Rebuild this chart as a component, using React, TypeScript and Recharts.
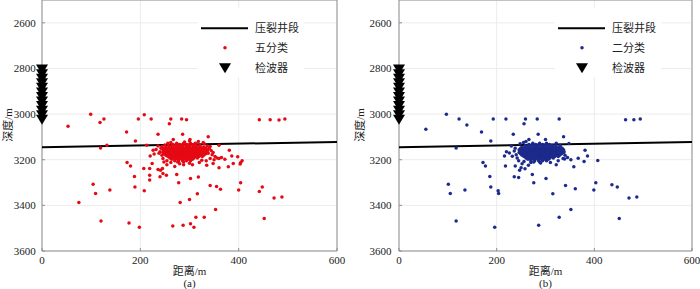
import React from 'react';
import { CartesianGrid, ReferenceLine, Scatter, ScatterChart, XAxis, YAxis } from 'recharts';

// depth (m) vs horizontal distance (m)
const xTicks = [0, 200, 400, 600];
const yTicks = [2600, 2800, 3000, 3200, 3400, 3600];

const wellSection = [
  { x: 0, y: 3145 },
  { x: 600, y: 3122 },
];

const geophoneDepths = [2805, 2825, 2845, 2865, 2885, 2905, 2925, 2945, 2965, 2985, 3005, 3025];

// dense event cloud around the fracturing stage, shared by both panels
const coreRows: [number, number[]][] = [
  [3128, [274, 288, 302]],
  [3133, [266, 273, 280, 287, 294, 301, 308]],
  [3138, [258, 265, 272, 279, 286, 293, 300, 307, 314, 321]],
  [3144, [252, 259, 266, 273, 280, 287, 294, 301, 308, 315, 322, 329]],
  [3150, [249, 256, 263, 270, 277, 284, 291, 298, 305, 312, 319, 326, 333]],
  [3156, [246, 253, 260, 267, 274, 281, 288, 295, 302, 309, 316, 323, 330, 337]],
  [3162, [249, 256, 263, 270, 277, 284, 291, 298, 305, 312, 319, 326, 333]],
  [3168, [246, 253, 260, 267, 274, 281, 288, 295, 302, 309, 316, 323, 330, 337]],
  [3174, [249, 256, 263, 270, 277, 284, 291, 298, 305, 312, 319, 326, 333]],
  [3180, [252, 259, 266, 273, 280, 287, 294, 301, 308, 315, 322, 329]],
  [3186, [256, 263, 270, 277, 284, 291, 298, 305, 312, 319, 326]],
  [3192, [260, 267, 274, 281, 288, 295, 302, 309, 316]],
  [3198, [264, 271, 278, 285, 292, 299, 306]],
  [3204, [270, 278, 286, 294, 302]],
  [3210, [276, 288]],
];

const fiveClassEvents: [number, number][] = [
  [242, 3150], [240, 3165], [244, 3180], [246, 3195], [250, 3135], [256, 3128], [262, 3125],
  [330, 3130], [336, 3140], [340, 3150], [344, 3160], [338, 3172], [346, 3178], [352, 3186],
  [356, 3192], [342, 3195], [334, 3205], [320, 3212], [300, 3215], [280, 3218], [262, 3212],
  [254, 3205], [248, 3210], [360, 3195], [365, 3190], [372, 3198], [350, 3200], [328, 3124],
  [318, 3120], [290, 3122], [300, 3118], [312, 3128], [236, 3140], [232, 3155], [228, 3175],
  [254, 3222], [270, 3230], [244, 3142], [238, 3172], [342, 3142], [348, 3168], [288, 3222],
  [53, 3053], [99, 3001], [118, 3037], [126, 3022], [119, 3149], [132, 3137], [172, 3079],
  [190, 3118], [196, 3022], [208, 3003], [222, 3022], [262, 3022], [259, 3042], [284, 3022],
  [294, 3025], [236, 3088], [286, 3088], [267, 3111], [301, 3111], [338, 3099], [360, 3137],
  [442, 3025], [464, 3025], [482, 3026], [494, 3022], [381, 3159], [386, 3184], [398, 3187],
  [404, 3213], [407, 3205], [403, 3219], [379, 3231], [173, 3212], [180, 3227], [188, 3273],
  [189, 3319], [207, 3238], [208, 3336], [219, 3289], [219, 3268], [219, 3238], [224, 3216],
  [220, 3184], [104, 3308], [109, 3348], [138, 3333], [75, 3387], [120, 3469], [177, 3477],
  [198, 3496], [266, 3490], [287, 3487], [302, 3481], [309, 3496], [313, 3452], [330, 3452],
  [353, 3418], [281, 3387], [300, 3374], [316, 3349], [278, 3301], [302, 3282], [318, 3276],
  [274, 3265], [342, 3313], [355, 3317], [363, 3329], [400, 3333], [404, 3301], [442, 3339],
  [448, 3319], [472, 3368], [488, 3363], [452, 3458], [240, 3275], [246, 3260], [253, 3268],
  [236, 3243], [245, 3238], [226, 3158], [213, 3137], [241, 3246], [360, 3235], [389, 3216],
  [348, 3216], [335, 3224], [325, 3202], [306, 3222],
];

const twoClassEvents: [number, number][] = [
  [238, 3150], [236, 3162], [240, 3178], [242, 3192], [245, 3205], [248, 3130], [255, 3125],
  [260, 3120], [322, 3128], [330, 3138], [334, 3150], [338, 3165], [340, 3180], [336, 3195],
  [326, 3205], [310, 3212], [290, 3214], [270, 3212], [256, 3208], [252, 3218], [265, 3224],
  [345, 3190], [352, 3200], [230, 3140], [226, 3170], [232, 3185], [250, 3235], [258, 3240],
  [55, 3066], [97, 3001], [123, 3022], [139, 3048], [117, 3149], [169, 3079], [188, 3118],
  [193, 3022], [219, 3022], [259, 3022], [256, 3042], [283, 3022], [328, 3022], [234, 3088],
  [285, 3088], [266, 3111], [300, 3111], [337, 3099], [348, 3129], [464, 3025], [481, 3025],
  [494, 3022], [381, 3159], [386, 3184], [367, 3194], [379, 3208], [407, 3203], [358, 3231],
  [172, 3212], [177, 3227], [186, 3273], [188, 3319], [218, 3227], [216, 3184], [203, 3336],
  [204, 3348], [220, 3165], [236, 3275], [245, 3278], [238, 3227], [247, 3246], [101, 3308],
  [105, 3348], [135, 3333], [117, 3469], [196, 3496], [286, 3487], [328, 3452], [352, 3418],
  [315, 3349], [276, 3301], [301, 3282], [273, 3265], [341, 3313], [361, 3327], [399, 3333],
  [403, 3301], [436, 3310], [447, 3319], [471, 3368], [487, 3363], [451, 3458], [322, 3222],
  [339, 3197],
];

const toPoints = (extra: [number, number][]) => [
  ...coreRows.flatMap(([y, xs]) => xs.map((x) => ({ x, y }))),
  ...extra.map(([x, y]) => ({ x, y })),
];

const serif = "'Liberation Serif', 'Noto Sans CJK SC', serif";
const axisGray = '#8f8f8f';

const triangle = (props: any) => {
  const { cx, cy } = props;
  return <path d={`M${cx - 6},${cy - 5}L${cx + 6},${cy - 5}L${cx},${cy + 5}Z`} fill="#000" />;
};

const dot = (color: string) => (props: any) => <circle cx={props.cx} cy={props.cy} r={1.75} fill={color} />;

const noShape = () => <g />;

type PanelProps = {
  left: number;
  yAxisWidth: number;
  marginRight: number;
  color: string;
  name: string;
  tag: string;
  events: [number, number][];
  legendLeft: number;
};

function Panel({ left, yAxisWidth, marginRight, color, name, tag, events, legendLeft }: PanelProps) {
  const points = toPoints(events);
  const geophones = geophoneDepths.map((y) => ({ x: 0, y }));
  const plotCenter = yAxisWidth + (350 - marginRight - yAxisWidth) / 2;
  const textStyle: React.CSSProperties = {
    position: 'absolute',
    fontFamily: serif,
    fontSize: 11,
    lineHeight: '14px',
    color: '#222',
    whiteSpace: 'nowrap',
  };

  return (
    <div style={{ position: 'absolute', left, top: 0, width: 350, height: 289 }}>
      <ScatterChart width={350} height={289} margin={{ top: 0, right: marginRight, bottom: 18, left: 0 }}>
        <CartesianGrid stroke="#ececec" strokeWidth={1} />
        <XAxis
          type="number"
          dataKey="x"
          domain={[0, 600]}
          ticks={xTicks}
          height={20}
          stroke={axisGray}
          tickSize={-3}
          tickMargin={8}
          tick={{ fill: '#222', fontSize: 11, fontFamily: serif }}
          interval={0}
        />
        <YAxis
          type="number"
          dataKey="y"
          domain={[2500, 3600]}
          reversed
          ticks={yTicks}
          width={yAxisWidth}
          stroke={axisGray}
          tickSize={-3}
          tickMargin={yAxisWidth === 42 ? 9.3 : 10.6}
          tick={{ fill: '#222', fontSize: 11, fontFamily: serif }}
          interval={0}
        />
        <ReferenceLine x={600} stroke={axisGray} />
        <ReferenceLine y={2500} stroke={axisGray} />
        <Scatter
          data={wellSection}
          line={{ stroke: '#000', strokeWidth: 2 }}
          shape={noShape}
          isAnimationActive={false}
        />
        <Scatter data={points} shape={dot(color)} isAnimationActive={false} />
        <Scatter data={geophones} shape={triangle} isAnimationActive={false} />
      </ScatterChart>

      <svg
        width={106}
        height={69}
        style={{ position: 'absolute', left: legendLeft - left, top: 8, background: '#fff' }}
      >
        <line x1={3} x2={50} y1={20.3} y2={20.3} stroke="#000" strokeWidth={2} />
        <circle cx={27} cy={39.7} r={1.75} fill={color} />
        <path d="M21,55.3L33,55.3L27,65.3Z" fill="#000" />
        <g fontFamily={serif} fontSize={11} fill="#222" dominantBaseline="central">
          <text x={57} y={20.3}>压裂井段</text>
          <text x={57} y={39.7}>{name}</text>
          <text x={57} y={60.3}>检波器</text>
        </g>
      </svg>

      <div
        style={{
          ...textStyle,
          left: yAxisWidth === 42 ? 8 - 30 : 10 - 30,
          top: 118,
          width: 60,
          textAlign: 'center',
          transform: 'rotate(-90deg)',
        }}
      >
        深度/m
      </div>
      <div style={{ ...textStyle, left: plotCenter - 40, top: 264, width: 80, textAlign: 'center' }}>距离/m</div>
      <div style={{ ...textStyle, left: plotCenter - 40, top: 276, width: 80, textAlign: 'center' }}>{tag}</div>
    </div>
  );
}

export default function App() {
  return (
    <div style={{ position: 'absolute', left: 0, top: 0, width: 700, height: 289, background: '#fff', overflow: 'hidden' }}>
      <Panel
        left={0}
        yAxisWidth={42}
        marginRight={13}
        color="#e50914"
        name="五分类"
        tag="(a)"
        events={fiveClassEvents}
        legendLeft={198}
      />
      <Panel
        left={350}
        yAxisWidth={49}
        marginRight={8}
        color="#1c2a8c"
        name="二分类"
        tag="(b)"
        events={twoClassEvents}
        legendLeft={555}
      />
    </div>
  );
}
